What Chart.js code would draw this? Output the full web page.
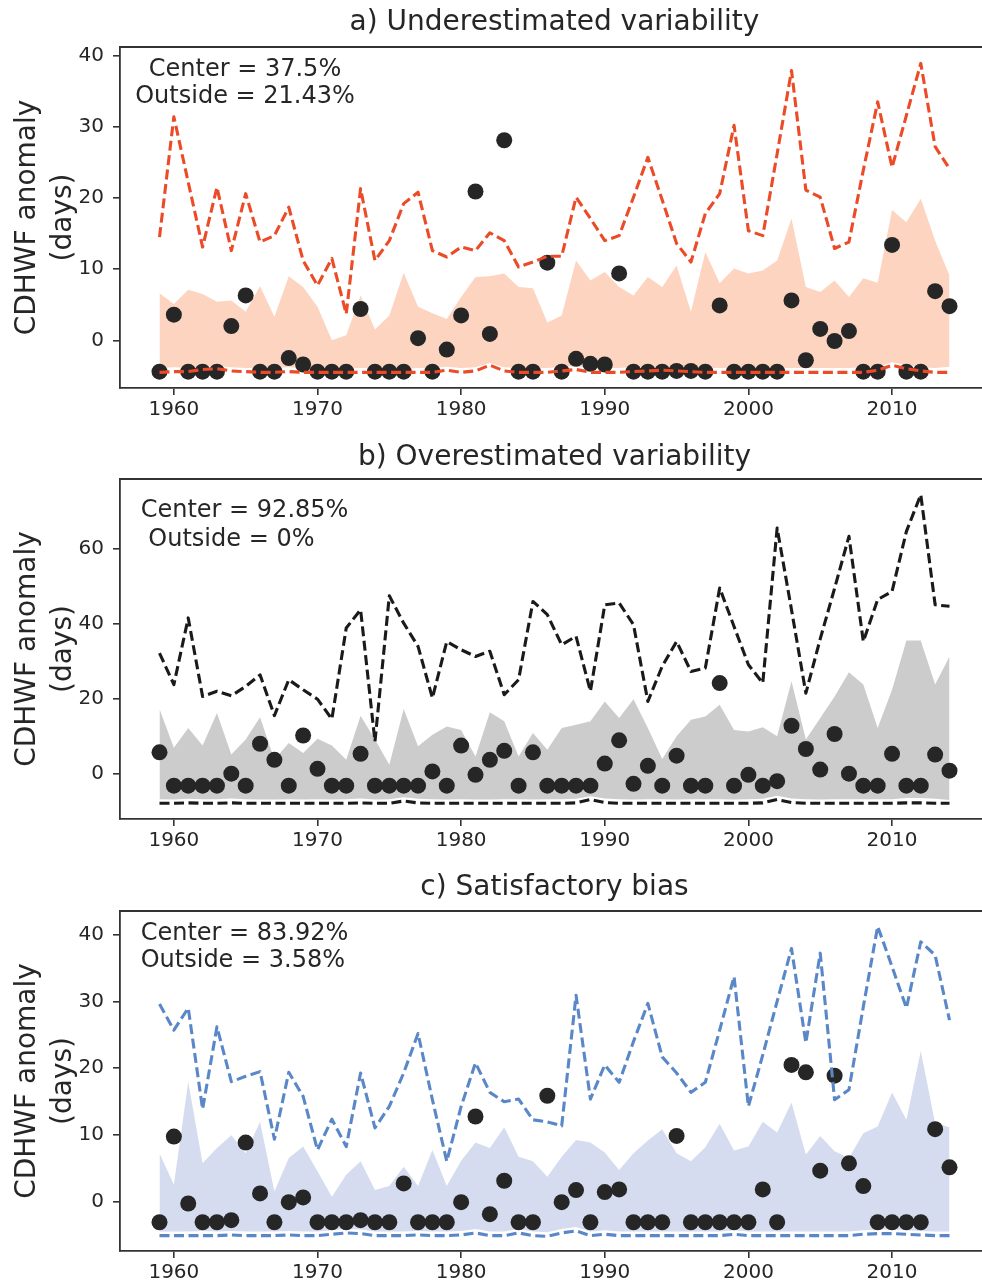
<!DOCTYPE html>
<html><head><meta charset="utf-8">
<script src="https://cdn.jsdelivr.net/npm/chart.js@4.4.0/dist/chart.umd.min.js"></script>
<style>
html,body{margin:0;padding:0;background:#fff;overflow:hidden;}
#wrap{position:relative;width:982px;height:1283px;overflow:hidden;background:#fff;}
canvas{position:absolute;left:0;}
</style></head><body>
<div id="wrap">
<canvas id="ca" width="1000" height="430" style="top:0px;width:1000px;height:430px"></canvas>
<canvas id="cb" width="1000" height="430" style="top:430px;width:1000px;height:430px"></canvas>
<canvas id="cc" width="1000" height="423" style="top:860px;width:1000px;height:423px"></canvas>
</div>
<script>
// ---------------- data ----------------
const years = [1959,1960,1961,1962,1963,1964,1965,1966,1967,1968,
  1969,1970,1971,1972,1973,1974,1975,1976,1977,1978,
  1979,1980,1981,1982,1983,1984,1985,1986,1987,1988,
  1989,1990,1991,1992,1993,1994,1995,1996,1997,1998,
  1999,2000,2001,2002,2003,2004,2005,2006,2007,2008,
  2009,2010,2011,2012,2013,2014];
const xTicks = [1960,1970,1980,1990,2000,2010];
const yTicksA = [0,10,20,30,40];
const yTicksB = [0,20,40,60];
const yTicksC = [0,10,20,30,40];
const titles = ['a) Underestimated variability','b) Overestimated variability','c) Satisfactory bias'];
const notesA = ['Center = 37.5%','Outside = 21.43%'];
const notesB = ['Center = 92.85%',' Outside = 0%'];
const notesC = ['Center = 83.92%','Outside = 3.58%'];
const yLabel = ['CDHWF anomaly','(days)'];

// panel a
const aUpper = [14.5,31.4,22.2,13.1,21.5,12.6,20.6,13.8,14.7,18.7,
  11.2,7.7,11.5,3.7,21.3,11.2,14.0,19.2,20.8,12.6,
  11.7,13.1,12.6,15.1,14.0,10.3,11.0,11.8,11.8,20.1,
  17.1,14.0,14.7,20.1,25.7,19.7,13.6,11.0,17.8,20.6,
  30.2,15.4,14.7,26.2,37.9,21.1,20.1,12.9,13.8,23.9,
  33.5,24.3,31.6,38.9,27.2,24.1];
const aLower = [-4.5,-4.4,-4.4,-4.1,-4.0,-4.3,-4.4,-4.5,-4.5,-4.4,
  -4.5,-4.5,-4.5,-4.5,-4.5,-4.5,-4.5,-4.5,-4.5,-4.5,
  -4.2,-4.5,-4.3,-3.5,-4.3,-4.5,-4.5,-4.5,-4.3,-4.1,
  -4.5,-4.5,-4.5,-4.4,-4.3,-4.2,-4.3,-4.4,-4.5,-4.5,
  -4.5,-4.5,-4.5,-4.5,-4.5,-4.5,-4.5,-4.5,-4.5,-4.5,
  -4.2,-3.5,-4.0,-4.3,-4.5,-4.5];
const aFillHi = [6.6,5.1,7.1,6.5,5.4,5.6,4.0,7.6,3.3,9.0,
  7.5,4.7,0.0,0.7,6.3,1.5,3.5,9.5,4.7,3.8,
  3.0,6.1,8.9,9.0,9.4,7.5,7.3,2.5,3.5,11.2,
  8.4,9.6,7.5,6.3,8.9,7.5,10.5,4.0,12.4,8.0,
  10.1,9.4,9.8,11.2,17.1,7.5,6.8,8.4,6.1,8.7,
  8.1,18.3,16.6,19.9,14.0,9.1];
const aFillLo = [-3.9,-3.8,-3.9,-3.7,-3.6,-3.8,-3.9,-3.9,-3.9,-3.8,
  -3.9,-4.0,-3.9,-4.0,-3.9,-3.9,-3.9,-4.0,-3.9,-3.9,
  -3.7,-3.9,-3.8,-3.2,-3.8,-3.9,-3.9,-3.9,-3.8,-3.6,
  -3.9,-3.9,-3.9,-3.8,-3.8,-3.7,-3.8,-3.9,-3.9,-3.9,
  -3.9,-4.0,-3.9,-3.9,-3.9,-3.9,-3.9,-3.9,-3.9,-3.8,
  -3.7,-3.1,-3.5,-3.8,-3.9,-3.7];
const aObs = [-4.4,3.6,-4.4,-4.4,-4.4,2.0,6.3,-4.4,-4.4,-2.5,
  -3.4,-4.4,-4.4,-4.4,4.4,-4.4,-4.4,-4.4,0.3,-4.4,
  -1.3,3.5,20.9,0.9,28.1,-4.4,-4.4,10.9,-4.4,-2.6,
  -3.3,-3.4,9.4,-4.4,-4.4,-4.4,-4.3,-4.3,-4.4,4.9,
  -4.4,-4.4,-4.4,-4.4,5.6,-2.8,1.6,-0.1,1.3,-4.4,
  -4.4,13.4,-4.4,-4.4,6.9,4.8];

// panel b
const bUpper = [32.2,23.8,41.6,20.6,22.0,20.8,23.3,26.4,15.5,25.1,
  22.4,19.9,14.6,38.9,43.8,8.6,47.5,40.2,34.0,20.2,
  35.3,33.1,31.3,32.7,21.1,25.1,46.0,42.5,34.4,36.7,
  22.0,45.1,45.6,39.8,19.3,28.7,35.3,27.3,28.2,49.6,
  39.3,29.1,24.2,65.6,43.8,21.5,36.0,49.5,63.4,35.3,
  46.5,48.7,64.7,74.5,45.1,44.7];
const bLower = [-7.9,-7.9,-7.8,-7.9,-7.9,-7.8,-7.9,-7.9,-7.9,-7.9,
  -7.9,-7.9,-7.9,-7.9,-7.8,-7.9,-7.9,-7.3,-7.8,-7.9,
  -7.9,-7.9,-7.9,-7.9,-7.9,-7.9,-7.9,-7.9,-7.9,-7.8,
  -6.9,-7.7,-7.9,-7.9,-7.9,-7.9,-7.9,-7.9,-7.9,-7.9,
  -7.9,-7.9,-7.8,-6.9,-7.7,-7.9,-7.9,-7.9,-7.9,-7.9,
  -7.9,-7.9,-7.8,-7.8,-7.9,-7.9];
const bFillHi = [17.3,6.9,12.2,7.5,16.2,5.1,9.1,15.1,3.7,8.2,
  5.5,9.3,7.5,3.7,15.5,9.1,2.4,17.3,7.3,10.4,
  12.6,11.7,4.6,16.4,14.0,4.6,10.9,6.4,12.2,13.1,
  14.0,19.3,14.9,19.9,12.2,3.9,10.0,14.4,15.3,18.4,
  11.7,11.3,12.4,10.0,24.7,9.1,14.9,20.6,27.1,23.8,
  12.2,22.4,35.6,35.6,23.8,31.3];
const bFillLo = [-6.8,-6.9,-6.7,-6.8,-6.8,-6.6,-6.8,-6.9,-6.9,-6.8,
  -6.9,-6.8,-6.9,-6.8,-6.6,-6.9,-6.8,-6.3,-6.7,-6.8,
  -6.9,-6.8,-6.9,-6.9,-6.8,-6.8,-6.9,-6.8,-6.8,-6.7,
  -6.0,-6.6,-6.8,-6.9,-6.8,-6.8,-6.9,-6.8,-6.8,-6.8,
  -6.9,-6.8,-6.7,-5.9,-6.6,-6.8,-6.9,-6.8,-6.8,-6.8,
  -6.8,-6.8,-6.5,-6.5,-6.7,-7.0];
const bObs = [5.7,-3.2,-3.2,-3.2,-3.2,0.0,-3.2,8.0,3.7,-3.2,
  10.2,1.3,-3.2,-3.2,5.3,-3.2,-3.2,-3.2,-3.2,0.6,
  -3.2,7.5,-0.3,3.7,6.1,-3.2,5.7,-3.2,-3.2,-3.2,
  -3.2,2.7,8.9,-2.7,2.1,-3.2,4.8,-3.2,-3.2,24.2,
  -3.2,-0.3,-3.2,-2.0,12.8,6.6,1.1,10.6,0.0,-3.2,
  -3.2,5.3,-3.2,-3.2,5.1,0.8];

// panel c
const cUpper = [29.6,25.7,29.0,13.9,26.2,18.0,18.8,19.5,9.4,19.4,
  15.8,7.8,12.4,8.3,19.3,11.1,14.3,19.3,25.2,15.3,
  6.1,14.3,20.8,16.4,15.0,15.4,12.3,12.0,11.4,30.9,
  15.4,20.5,17.9,24.0,29.7,21.7,19.3,16.4,17.9,25.7,
  33.7,14.3,22.0,30.0,37.9,23.8,37.2,15.3,16.8,29.2,
  41.2,35.2,29.0,38.9,36.9,27.2];
const cLower = [-5.0,-5.0,-5.0,-5.0,-5.0,-4.9,-5.0,-5.0,-5.0,-4.9,
  -5.0,-5.0,-4.8,-4.6,-4.7,-5.0,-5.0,-5.0,-4.9,-5.0,
  -5.0,-4.9,-4.6,-5.0,-5.0,-4.6,-5.0,-5.1,-4.6,-4.3,
  -5.0,-4.8,-5.0,-5.0,-5.0,-5.0,-5.0,-5.0,-5.0,-5.0,
  -4.8,-5.0,-5.0,-5.0,-5.0,-5.0,-5.0,-5.0,-5.0,-4.8,
  -4.7,-4.7,-4.8,-4.9,-5.0,-5.0];
const cFillHi = [7.3,2.6,18.0,5.8,8.1,10.0,7.3,12.0,1.6,6.6,
  8.3,4.6,0.8,4.1,6.1,1.8,2.4,5.3,2.4,7.8,
  2.4,6.2,8.9,8.1,11.2,6.8,6.1,3.8,6.8,9.3,
  8.9,7.4,4.8,7.3,9.2,10.9,7.3,6.1,8.2,11.7,
  7.7,8.3,12.0,10.4,14.9,7.1,9.9,7.6,6.6,10.3,
  11.3,16.4,12.3,22.6,11.8,11.2];
const cFillLo = [-4.4,-4.4,-4.4,-4.3,-4.4,-4.3,-4.4,-4.4,-4.4,-4.3,
  -4.4,-4.4,-4.2,-4.0,-4.1,-4.4,-4.4,-4.4,-4.3,-4.4,
  -4.4,-4.3,-4.0,-4.4,-4.4,-4.0,-4.4,-4.5,-4.0,-3.7,
  -4.4,-4.2,-4.4,-4.4,-4.4,-4.4,-4.4,-4.4,-4.4,-4.4,
  -4.2,-4.4,-4.4,-4.4,-4.4,-4.4,-4.4,-4.4,-4.4,-4.2,
  -4.1,-4.1,-4.2,-4.3,-4.4,-4.4];
const cObs = [-3.0,9.8,-0.2,-3.0,-3.0,-2.7,8.9,1.3,-3.0,0.0,
  0.7,-3.0,-3.0,-3.0,-2.7,-3.0,-3.0,2.8,-3.0,-3.0,
  -3.0,0.0,12.8,-1.8,3.2,-3.0,-3.0,15.9,0.0,1.8,
  -3.0,1.5,1.9,-3.0,-3.0,-3.0,9.9,-3.0,-3.0,-3.0,
  -3.0,-3.0,1.9,-3.0,20.5,19.4,4.7,18.9,5.8,2.4,
  -3.0,-3.0,-3.0,-3.0,10.9,5.2];

// ---------------- styling ----------------
const TEXT = '#262626';
const FRAME = '#333333';
const DOT = '#262626';
const FONT = 'DejaVu Sans';

function pts(vals){ return years.map((yr,i)=>({x:yr, y:vals[i]})); }

function makePanel(id, cfg){
  const deco = {
    id:'deco',
    afterDraw(chart){
      const {ctx, chartArea:a} = chart;
      ctx.save();
      ctx.strokeStyle = FRAME; ctx.lineWidth = 1.8;
      ctx.beginPath(); ctx.moveTo(a.left-0.9, a.top); ctx.lineTo(a.right+0.9, a.top); ctx.stroke();
      ctx.fillStyle = TEXT;
      ctx.textBaseline = 'middle';
      ctx.font = '28px "' + FONT + '"';
      ctx.textAlign = 'center';
      ctx.fillText(cfg.title, (a.left + a.right)/2, cfg.titleY);
      ctx.font = '24px "' + FONT + '"';
      ctx.textAlign = cfg.noteAlign;
      cfg.notes.forEach((t,i)=>ctx.fillText(t, cfg.noteX, cfg.noteY[i]));
      ctx.restore();
    }
  };
  const tickFont = {family:FONT, size:20};
  const grid = {display:true, drawOnChartArea:false, drawTicks:true, tickLength:7, color:FRAME, lineWidth:1.6};
  const border = {display:true, color:FRAME, width:1.8};
  const dashed = {borderColor:cfg.line, borderWidth:3.1, borderDash:[10,4.5], borderJoinStyle:'round', pointRadius:0, fill:false, order:0};
  new Chart(document.getElementById(id), {
    type:'line',
    data:{datasets:[
      Object.assign({data:pts(cfg.upper)}, dashed),
      Object.assign({data:pts(cfg.lower)}, dashed),
      {data:pts(cfg.obs), showLine:false, pointRadius:8, pointBackgroundColor:DOT, pointBorderWidth:0, borderColor:DOT, order:1},
      {data:pts(cfg.fillLo), borderColor:'rgba(0,0,0,0)', borderWidth:0, pointRadius:0, fill:false, order:2},
      {data:pts(cfg.fillHi), borderColor:'rgba(0,0,0,0)', borderWidth:0, pointRadius:0, fill:'-1', backgroundColor:cfg.fill, order:2}
    ]},
    options:{
      responsive:false, animation:false, events:[],
      layout:{padding:{left:0, top:cfg.top, right:11, bottom:0}},
      plugins:{legend:{display:false}, tooltip:{enabled:false}, title:{display:false}},
      elements:{line:{tension:0}},
      scales:{
        x:{type:'linear', min:1956.25, max:2016.75,
          afterBuildTicks:s=>{ s.ticks = xTicks.map(v=>({value:v})); },
          afterFit:s=>{ s.height = cfg.xh; },
          ticks:{font:tickFont, color:TEXT, padding:3, maxRotation:0, autoSkip:false, callback:v=>String(v)},
          grid:grid, border:border},
        y:{type:'linear', min:cfg.ymin, max:cfg.ymax,
          afterBuildTicks:s=>{ s.ticks = cfg.yticks.map(v=>({value:v})); },
          afterFit:s=>{ s.width = 120; },
          ticks:{font:tickFont, color:TEXT, padding:9, callback:v=>String(v)},
          grid:grid, border:border,
          title:{display:true, text:yLabel, color:TEXT, font:{family:FONT, size:28, lineHeight:1.286}, padding:{top:10, bottom:0}}}
      }
    },
    plugins:[deco]
  });
}

makePanel('ca', {upper:aUpper, lower:aLower, obs:aObs, fillHi:aFillHi, fillLo:aFillLo,
  line:'#ec4b28', fill:'#fdd4c0', ymin:-6.7, ymax:41.2, yticks:yTicksA,
  top:47, xh:42, title:titles[0], titleY:23, notes:notesA, noteAlign:'center', noteX:245, noteY:[69.3, 96.7]});
makePanel('cb', {upper:bUpper, lower:bLower, obs:bObs, fillHi:bFillHi, fillLo:bFillLo,
  line:'#1a1a1a', fill:'#cccccc', ymin:-12.1, ymax:78.7, yticks:yTicksB,
  top:49, xh:41, title:titles[1], titleY:28, notes:notesB, noteAlign:'left', noteX:140.7, noteY:[80.7, 110]});
makePanel('cc', {upper:cUpper, lower:cLower, obs:cObs, fillHi:cFillHi, fillLo:cFillLo,
  line:'#5a87c8', fill:'#d6dcf0', ymin:-7.3, ymax:43.5, yticks:yTicksC,
  top:51, xh:32, title:titles[2], titleY:28, notes:notesC, noteAlign:'left', noteX:140.7, noteY:[73.3, 100.7]});
</script>
</body></html>
